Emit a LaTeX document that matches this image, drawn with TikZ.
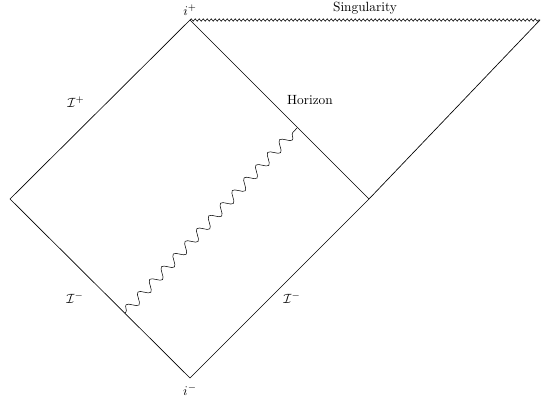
\documentclass[tikz,border=0pt]{standalone}
\usepackage{tikz}
\usetikzlibrary{decorations.pathmorphing}

\begin{document}
\begin{tikzpicture}[
  x=0.75pt, y=-0.75pt,
  edge/.style={draw, line width=0.5pt},
  wave/.style={draw, decorate, decoration={snake, amplitude=3.6pt, segment length=13pt, pre length=1pt, post length=3pt}},
  sing/.style={draw, decorate, decoration={snake, amplitude=0.9pt, segment length=3pt}},
  lbl/.style={font=\normalsize},
]
  \useasboundingbox (0,0) rectangle (542,402);

  % Corners
  \coordinate (west) at (10,199);
  \coordinate (north) at (190,20);
  \coordinate (east) at (369,199);
  \coordinate (south) at (190,378);
  \coordinate (far) at (540,20);

  % Diamond and outer region
  \draw[edge] (west) -- (north) -- (east) -- (south) -- cycle;
  \draw[edge] (east) -- (far);
  \draw[sing] (north) -- (far);

  % Wavy shell
  \coordinate (w1) at (125,313);
  \coordinate (w2) at (297,128);
  \draw[wave] (w1) -- (w2);

  % Labels
  \node[lbl] (iplus) at (190,10) {$i^+$};
  \node[lbl] (iminus) at (190,390) {$i^-$};
  \node[lbl] (singlbl) at (365,8) {Singularity};
  \node[lbl] (horlbl) at (310,100) {Horizon};
  \node[lbl] (scriplus) at (76,102) {$\mathcal{I}^+$};
  \node[lbl] (scriminL) at (75,298) {$\mathcal{I}^-$};
  \node[lbl] (scriminR) at (292,298) {$\mathcal{I}^-$};
\end{tikzpicture}
\end{document}
